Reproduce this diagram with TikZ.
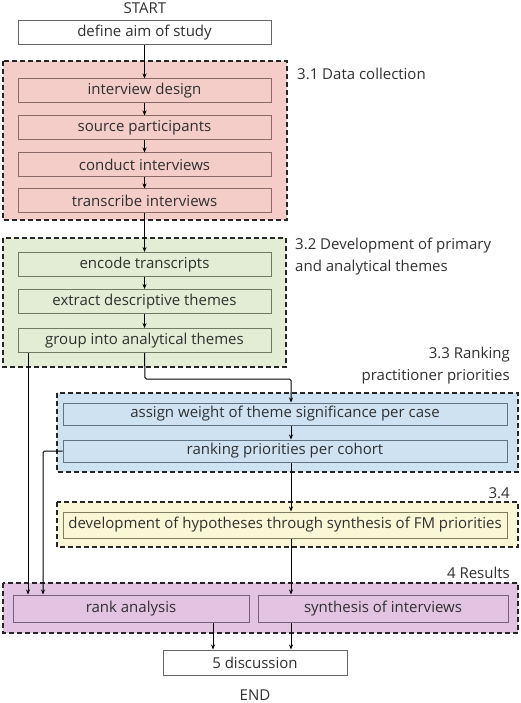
\documentclass[tikz,border=0pt]{standalone}
\usepackage{fontspec}
\setmainfont{Open Sans}
\usetikzlibrary{arrows.meta}
\definecolor{txt}{HTML}{303030}
\definecolor{redf}{HTML}{F4CCC8}
\definecolor{redl}{HTML}{8A6A68}
\definecolor{greenf}{HTML}{E3ECD4}
\definecolor{greenl}{HTML}{6F7A62}
\definecolor{bluef}{HTML}{CFE2F2}
\definecolor{bluel}{HTML}{607484}
\definecolor{yelf}{HTML}{FAF6D6}
\definecolor{yell}{HTML}{807D62}
\definecolor{purf}{HTML}{E2C3E2}
\definecolor{purl}{HTML}{77607A}
\tikzset{
  every node/.style={text=txt, font=\fontsize{15}{18}\selectfont, inner sep=0pt},
  container/.style={draw=black!85, line width=1.2pt, dash pattern=on 5pt off 3pt},
  stepbox/.style={draw, line width=1pt, minimum height=24pt, minimum width=253pt},
  plainbox/.style={stepbox, draw=black!60, fill=white},
  conn/.style={draw=black, line width=1pt, -{Stealth[length=5pt,width=4pt]}, rounded corners=1.5pt},
  lbl/.style={font=\fontsize{15}{21.5}\selectfont}
}
\begin{document}
\begin{tikzpicture}[x=1pt,y=-1pt]
\useasboundingbox (0,0) rectangle (520,703);
% containers
\draw[container, fill=redf] (3,61) rectangle (287,220);
\draw[container, fill=greenf] (3,238) rectangle (286,367);
\draw[container, fill=bluef] (57,393) rectangle (518,472);
\draw[container, fill=yelf] (57,502) rectangle (518,547);
\draw[container, fill=purf] (3,583) rectangle (518,633);
% labels
\node (start) at (145,8) {START};
\node (end) at (255,695) {END};
\node[lbl, anchor=west] (l31) at (297,74) {3.1 Data collection};
\node[lbl, anchor=north west, align=left] (l32) at (295,238) {3.2 Development of primary\\and analytical themes};
\node[lbl, anchor=north east, align=right] (l33) at (510,347) {3.3 Ranking\\practitioner priorities};
\node[lbl, anchor=east] (l34) at (510,493) {3.4};
\node[lbl, anchor=east] (l4) at (510,573) {4 Results};
% boxes
\node[plainbox] (define) at (144.5,33) {define aim of study};
\node[stepbox, draw=redl, fill=redf] (design) at (144.5,91) {interview design};
\node[stepbox, draw=redl, fill=redf] (source) at (144.5,128) {source participants};
\node[stepbox, draw=redl, fill=redf] (conduct) at (144.5,165) {conduct interviews};
\node[stepbox, draw=redl, fill=redf] (transcribe) at (144.5,201) {transcribe interviews};
\node[stepbox, draw=greenl, fill=greenf] (encode) at (144.5,264.5) {encode transcripts};
\node[stepbox, draw=greenl, fill=greenf] (extract) at (144.5,301.5) {extract descriptive themes};
\node[stepbox, draw=greenl, fill=greenf] (group) at (144.5,340.5) {group into analytical themes};
\node[stepbox, draw=bluel, fill=bluef, minimum width=444pt, minimum height=22pt] (assign) at (285,414) {assign weight of theme significance per case};
\node[stepbox, draw=bluel, fill=bluef, minimum width=444pt, minimum height=22pt] (ranking) at (285,451) {ranking priorities per cohort};
\node[stepbox, draw=yell, fill=yelf, minimum width=444pt, minimum height=26pt] (devel) at (285,525) {development of hypotheses through synthesis of FM priorities};
\node[stepbox, draw=purl, fill=purf, minimum width=236pt, minimum height=27pt] (rank) at (131,608.5) {rank analysis};
\node[stepbox, draw=purl, fill=purf, minimum width=250pt, minimum height=27pt] (synth) at (383,608.5) {synthesis of interviews};
\node[plainbox, minimum width=184pt, minimum height=25pt] (disc) at (255,662.5) {5 discussion};
% connectors
\draw[conn] (define.south) -- (design.north);
\draw[conn] (design.south) -- (source.north);
\draw[conn] (source.south) -- (conduct.north);
\draw[conn] (conduct.south) -- (transcribe.north);
\draw[conn] (transcribe.south) -- (encode.north);
\draw[conn] (encode.south) -- (extract.north);
\draw[conn] (extract.south) -- (group.north);
\coordinate (c1) at (145,379);
\coordinate (c2) at (291,379);
\draw[conn] (group.south) -- (c1) -- (c2) -- (c2 |- assign.north);
\draw[conn] (assign.south -| c2) -- (c2 |- ranking.north);
\draw[conn] (ranking.south -| c2) -- (c2 |- devel.north);
\draw[conn] (devel.south -| c2) -- (c2 |- synth.north);
\coordinate (g1) at (28,0);
\draw[conn] (g1 |- group.south) -- (g1 |- rank.north);
\coordinate (r1) at (43,451);
\draw[conn] (ranking.west) -- (r1) -- (r1 |- rank.north);
\coordinate (d1) at (213,0);
\draw[conn] (d1 |- rank.south) -- (d1 |- disc.north);
\draw[conn] (c2 |- synth.south) -- (c2 |- disc.north);
\end{tikzpicture}
\end{document}
